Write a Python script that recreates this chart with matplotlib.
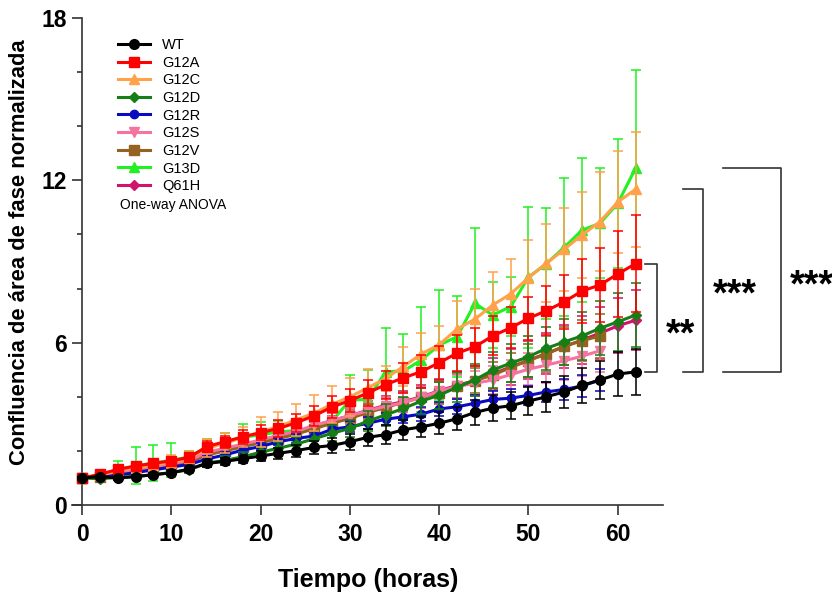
import matplotlib
matplotlib.use("Agg")
import matplotlib.pyplot as plt
from matplotlib.lines import Line2D

plt.rcParams['font.family'] = ['Liberation Sans', 'DejaVu Sans']

# Time points (hours)
hours = list(range(0, 63, 2))          # 0..62
hours_short = list(range(0, 59, 2))    # 0..58

# Normalised phase-area confluence (mean) per genotype
wt = [1.0, 1.05, 1.0, 1.05, 1.12, 1.19, 1.33, 1.54, 1.61, 1.71, 1.81, 1.91, 2.01, 2.13, 2.2, 2.34,
      2.5, 2.6, 2.78, 2.89, 3.02, 3.19, 3.42, 3.58, 3.67, 3.84, 4.0, 4.18, 4.42, 4.62, 4.84, 4.92]
g12a = [1.0, 1.13, 1.32, 1.44, 1.54, 1.63, 1.76, 2.16, 2.34, 2.52, 2.67, 2.83, 3.04, 3.3, 3.62, 3.86,
        4.14, 4.45, 4.7, 4.93, 5.26, 5.61, 5.85, 6.25, 6.55, 6.9, 7.18, 7.51, 7.91, 8.13, 8.54, 8.92]
g12c = [1.0, 1.1, 1.25, 1.38, 1.48, 1.58, 1.72, 2.1, 2.28, 2.5, 2.7, 2.9, 3.15, 3.4, 3.72, 4.0,
        4.33, 4.68, 5.12, 5.58, 5.93, 6.5, 6.87, 7.39, 7.8, 8.4, 8.93, 9.45, 9.98, 10.47, 11.2, 11.67]
g12d = [1.0, 0.97, 1.02, 1.05, 1.12, 1.2, 1.3, 1.55, 1.65, 1.78, 1.95, 2.1, 2.25, 2.45, 2.65, 2.83,
        3.1, 3.33, 3.57, 3.84, 4.06, 4.35, 4.62, 4.99, 5.24, 5.48, 5.79, 6.03, 6.25, 6.53, 6.77, 7.02]
g12r = [1.0, 1.05, 1.1, 1.2, 1.3, 1.4, 1.5, 1.7, 1.85, 2.03, 2.16, 2.34, 2.46, 2.55, 2.8, 2.89,
        3.02, 3.17, 3.26, 3.36, 3.55, 3.63, 3.76, 3.9, 3.95, 4.05, 4.18, 4.27, 4.4, 4.62]
g12s = [1.0, 1.08, 1.2, 1.32, 1.42, 1.52, 1.65, 1.95, 2.1, 2.25, 2.4, 2.58, 2.72, 2.95, 3.12, 3.3,
        3.48, 3.65, 3.78, 3.98, 4.2, 4.38, 4.5, 4.62, 4.82, 5.02, 5.17, 5.33, 5.5, 5.7]
g12v = [1.0, 1.05, 1.15, 1.25, 1.35, 1.45, 1.58, 1.85, 2.0, 2.15, 2.3, 2.45, 2.62, 2.82, 3.02, 3.2,
        3.42, 3.6, 3.8, 3.98, 4.15, 4.4, 4.6, 4.8, 5.08, 5.34, 5.58, 5.87, 6.07, 6.25]
g13d = [1.0, 1.1, 1.3, 1.45, 1.55, 1.65, 1.78, 2.15, 2.3, 2.5, 2.6, 2.7, 2.75, 2.85, 3.1, 3.88,
        3.9, 4.93, 4.95, 5.36, 5.91, 6.22, 7.45, 7.02, 7.33, 8.42, 8.92, 9.52, 10.16, 10.41, 11.15, 12.45]
q61h = [1.0, 1.06, 1.16, 1.28, 1.38, 1.48, 1.6, 1.9, 2.05, 2.22, 2.38, 2.55, 2.7, 2.92, 3.12, 3.3,
        3.5, 3.68, 3.82, 4.0, 4.22, 4.42, 4.6, 4.85, 5.1, 5.35, 5.6, 5.85, 6.1, 6.35, 6.62, 6.83]

# Standard deviations
wt_err = [0.05, 0.06, 0.06, 0.07, 0.08, 0.09, 0.1, 0.12, 0.13, 0.15, 0.17, 0.2, 0.22, 0.25, 0.27, 0.3,
          0.32, 0.34, 0.36, 0.38, 0.4, 0.42, 0.45, 0.47, 0.49, 0.52, 0.55, 0.6, 0.65, 0.72, 0.8, 0.84]
g12a_err = [0.05, 0.07, 0.1, 0.12, 0.13, 0.14, 0.15, 0.2, 0.22, 0.25, 0.27, 0.3, 0.33, 0.37, 0.4, 0.44,
            0.48, 0.52, 0.56, 0.6, 0.63, 0.66, 0.7, 0.72, 0.76, 0.8, 0.9, 1.0, 1.2, 1.36, 1.6, 1.79]
g12c_err = [0.05, 0.1, 0.15, 0.2, 0.22, 0.25, 0.28, 0.33, 0.37, 0.37, 0.55, 0.55, 0.6, 0.65, 0.68, 0.7,
            0.68, 0.46, 0.72, 0.76, 0.7, 1.05, 1.11, 1.23, 1.29, 1.39, 1.44, 1.54, 1.6, 1.82, 1.89, 2.13]
g12d_err = [0.04, 0.05, 0.06, 0.07, 0.08, 0.09, 0.1, 0.13, 0.15, 0.17, 0.2, 0.22, 0.25, 0.28, 0.3, 0.33,
            0.36, 0.4, 0.43, 0.47, 0.5, 0.55, 0.6, 0.65, 0.7, 0.75, 0.8, 0.85, 0.9, 1.0, 1.08, 1.18]
g12r_err = [0.03, 0.04, 0.05, 0.06, 0.07, 0.08, 0.09, 0.1, 0.11, 0.12, 0.13, 0.14, 0.15, 0.16, 0.18, 0.2,
            0.22, 0.23, 0.24, 0.25, 0.27, 0.28, 0.3, 0.32, 0.33, 0.35, 0.37, 0.38, 0.4, 0.42]
g12s_err = [0.04, 0.05, 0.06, 0.07, 0.08, 0.09, 0.1, 0.13, 0.15, 0.17, 0.19, 0.21, 0.23, 0.26, 0.28, 0.3,
            0.32, 0.34, 0.36, 0.38, 0.4, 0.43, 0.46, 0.5, 0.55, 0.6, 0.65, 0.7, 0.75, 0.8]
g12v_err = [0.04, 0.05, 0.06, 0.07, 0.08, 0.09, 0.1, 0.13, 0.15, 0.17, 0.19, 0.21, 0.23, 0.26, 0.28, 0.3,
            0.32, 0.34, 0.36, 0.38, 0.4, 0.43, 0.46, 0.5, 0.55, 0.6, 0.65, 0.7, 0.75, 0.8]
g13d_err = [0.05, 0.15, 0.34, 0.68, 0.67, 0.63, 0.2, 0.3, 0.35, 0.5, 0.45, 0.4, 0.4, 0.45, 0.5, 0.92,
            1.1, 1.6, 1.37, 1.94, 2.04, 1.5, 2.78, 1.23, 1.1, 2.6, 2.06, 2.55, 2.65, 2.03, 2.38, 3.63]
q61h_err = [0.04, 0.05, 0.06, 0.07, 0.08, 0.09, 0.1, 0.13, 0.15, 0.17, 0.19, 0.21, 0.23, 0.26, 0.28, 0.3,
            0.33, 0.36, 0.39, 0.42, 0.45, 0.5, 0.55, 0.6, 0.65, 0.7, 0.75, 0.8, 0.88, 0.95, 1.02, 1.1]

labels = ['WT', 'G12A', 'G12C', 'G12D', 'G12R', 'G12S', 'G12V', 'G13D', 'Q61H']
series = [wt, g12a, g12c, g12d, g12r, g12s, g12v, g13d, q61h]
errors = [wt_err, g12a_err, g12c_err, g12d_err, g12r_err, g12s_err, g12v_err, g13d_err, q61h_err]
colors = ['#000000', '#FF0000', '#FFA24A', '#157F15', '#0A0AC0', '#F7729E', '#96621F', '#22F022', '#D0136C']
markers = ['o', 's', '^', 'D', 'o', 'v', 's', '^', 'D']
msizes = [7, 7, 7.5, 5, 6, 7, 7, 7.5, 5]

fig = plt.figure(figsize=(8.32, 5.92), dpi=100)
ax = fig.add_axes([72.2 / 832, 87 / 592, (663.3 - 72.2) / 832, (505 - 18) / 592])

n = len(series)
for i, (lab, y, e, c, m, ms) in enumerate(zip(labels, series, errors, colors, markers, msizes)):
    x = hours[:len(y)]
    z = 10 + (n - i) * 2
    ax.errorbar(x, y, yerr=e, fmt='none', ecolor=c, elinewidth=1.4, capsize=3.8,
                capthick=1.4, alpha=0.8, zorder=z - 1)
    ax.plot(x, y, color=c, marker=m, markersize=ms, linewidth=2.2, zorder=z)

ax.set_xlim(-1.1, 65.1)
ax.set_ylim(0, 18)
ax.spines['left'].set_position(('data', 0))
ax.spines['top'].set_visible(False)
ax.spines['right'].set_visible(False)
for s in ('left', 'bottom'):
    ax.spines[s].set_linewidth(1.2)
    ax.spines[s].set_color('#333333')

ax.set_xticks([0, 10, 20, 30, 40, 50, 60])
ax.set_yticks([0, 6, 12, 18])
ax.set_yticks([2, 4, 8, 10, 14, 16], minor=True)
ax.tick_params(axis='both', which='major', direction='out', length=7, width=1.2,
               color='#333333', labelsize=16.5, pad=4)
ax.tick_params(axis='x', which='major', pad=6)
ax.tick_params(axis='y', which='minor', direction='out', length=3.5, width=1.2, color='#333333')
for t in ax.get_xticklabels() + ax.get_yticklabels():
    t.set_fontweight('bold')

ax.set_xlabel('Tiempo (horas)', fontsize=18, fontweight='bold', labelpad=16)
fig.text(20 / 832, 1 - 252 / 592, 'Confluencia de área de fase normalizada', rotation=90,
         fontsize=15.8, fontweight='bold', ha='center', va='center')

# Legend
handles = [Line2D([], [], color=c, marker=m, markersize=ms, linewidth=2.2)
           for c, m, ms in zip(colors, markers, msizes)]
leg = fig.legend(handles, labels, loc='upper left', bbox_to_anchor=(118 / 832, 1 - 38 / 592),
                 frameon=False, fontsize=10.5, handlelength=2.2, handletextpad=0.82,
                 labelspacing=0.25, borderpad=0, borderaxespad=0)
fig.text(120 / 832, 1 - 205 / 592, 'One-way ANOVA', fontsize=10, va='center', ha='left')

# Significance brackets (data coordinates, drawn outside the axes)
def bracket(x_arm, x_vert, y_top, y_bot, text, x_text, y_text):
    ax.plot([x_arm, x_vert, x_vert, x_arm], [y_top, y_top, y_bot, y_bot],
            color='#333333', linewidth=1.2, clip_on=False)
    ax.text(x_text, y_text, text, fontsize=27, fontweight='bold', ha='left', va='baseline',
            clip_on=False)

bracket(63.0, 64.4, g12a[-1], wt[-1], '**', 65.4, 5.9)
bracket(67.3, 69.6, g12c[-1], wt[-1], '***', 70.6, 7.36)
bracket(71.8, 78.3, g13d[-1], wt[-1], '***', 79.3, 7.7)

fig.savefig('out.png', dpi=100)
